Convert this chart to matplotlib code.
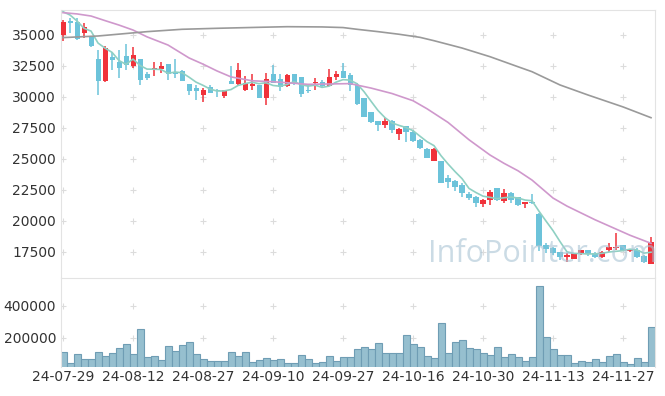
import numpy as np
import pandas as pd
import matplotlib
matplotlib.use("Agg")
import matplotlib.pyplot as plt

# daily candles, 24-07-29 .. 24-12-03 (trading days)
opens = [35000, 36100, 36050, 35200, 34850, 33050, 31250, 33250, 32850, 33300,
         32500, 33050, 31850, 32150, 32250, 32650, 31900, 32100, 31050, 30750,
         30150, 30800, 30600, 30100, 31300, 31050, 30600, 30900, 30950, 29900,
         31850, 31450, 30850, 31850, 31600, 30550, 31100, 31200, 30900, 31600,
         32100, 31750, 30950, 29950, 28750, 28050, 27750, 28050, 27000, 27650,
         27200, 26530, 25800, 24850, 24800, 23500, 23230, 22900, 22180, 21950,
         21370, 21700, 22650, 21650, 22250, 21900, 21350, 21550, 20600, 18100,
         17800, 17480, 17120, 16950, 17330, 17650, 17450, 17080, 17660, 17850,
         18050, 17580, 17700, 17180, 16550]
highs = [36200, 36350, 36350, 35950, 34900, 33800, 34150, 33650, 33800, 34250,
         34000, 33100, 32050, 32800, 32850, 32650, 33050, 32150, 31050, 30950,
         30700, 30950, 30650, 30600, 32500, 32750, 31700, 31850, 31000, 31950,
         32600, 31850, 31850, 31850, 31600, 30950, 31500, 31350, 32250, 32100,
         32750, 31950, 31100, 29950, 28800, 28080, 28300, 28150, 27500, 27700,
         27350, 26600, 25850, 25850, 24800, 23700, 23300, 23050, 22350, 22000,
         21800, 22500, 22650, 22550, 22350, 21950, 21560, 22150, 20650, 18200,
         17900, 17520, 17400, 17450, 17700, 17700, 17500, 17600, 18200, 19000,
         18100, 17750, 17800, 17250, 18700]
lows = [34500, 35150, 34600, 34750, 34050, 30200, 31200, 32200, 31550, 32200,
        32300, 30950, 31350, 31700, 31900, 31350, 31550, 31250, 30150, 29750,
        29600, 30300, 29980, 29900, 31050, 30850, 30450, 30600, 29950, 29350,
        31100, 30450, 30800, 30950, 30000, 30350, 30600, 30700, 30900, 31400,
        31500, 30450, 29350, 28350, 27880, 27250, 27480, 27100, 26550, 26350,
        26400, 25800, 25050, 24850, 23050, 22650, 22420, 21950, 21700, 21150,
        21150, 21300, 21600, 21430, 21480, 21200, 21020, 21400, 17600, 17400,
        17250, 16850, 16680, 16900, 17250, 17200, 17050, 17000, 17520, 17650,
        17550, 17500, 17000, 16600, 16500]
closes = [36070, 36000, 34700, 35650, 34150, 31250, 33950, 33000, 32350, 32600,
          33400, 31350, 31550, 32300, 32500, 31850, 31850, 31300, 30500, 30500,
          30550, 30350, 30500, 30550, 31050, 32200, 31100, 31050, 29950, 31450,
          31100, 30800, 31750, 31100, 30250, 30480, 31200, 30850, 31600, 31850,
          31500, 31000, 29400, 28400, 28000, 27750, 28100, 27300, 27400, 27150,
          26480, 25850, 25100, 25800, 23100, 23150, 22780, 22250, 21850, 21430,
          21700, 22300, 21700, 22250, 21700, 21300, 21500, 21420, 18000, 17750,
          17450, 17080, 17260, 17400, 17650, 17300, 17130, 17480, 17930, 17930,
          17580, 17720, 17130, 16680, 18300]
volumes = [107000, 38000, 95000, 63000, 63000, 107000, 82000, 101000, 133000, 158000,
           95000, 253000, 76000, 82000, 57000, 145000, 114000, 152000, 171000, 95000,
           63000, 51000, 51000, 51000, 107000, 82000, 107000, 44000, 57000, 69000,
           57000, 63000, 38000, 38000, 88000, 63000, 38000, 44000, 82000, 51000,
           76000, 76000, 126000, 139000, 126000, 164000, 101000, 101000, 101000, 215000,
           158000, 139000, 82000, 69000, 291000, 101000, 171000, 183000, 133000, 126000,
           101000, 88000, 139000, 76000, 95000, 76000, 51000, 76000, 526000, 202000,
           126000, 88000, 88000, 38000, 51000, 44000, 63000, 44000, 82000, 95000,
           44000, 32000, 69000, 44000, 265000]

# 5-day MA head (needs closes before the window)
ma5_head = [36880, 36610, 36130, 35540]
# 20-day and 60-day MA at these candles
ma20_idx = [0, 2, 4, 6, 8, 10, 12, 15, 18, 20, 22, 24, 27, 30, 32, 35, 38, 41, 44, 47,
            50, 52, 55, 58, 61, 63, 65, 67, 70, 72, 74, 76, 78, 81, 84]
ma20_val = [36800, 36700, 36530, 36160, 35800, 35400, 34850, 34190, 33150, 32650,
            32100, 31620, 31310, 31230, 31150, 31020, 31050, 31080, 30720, 30280,
            29700, 29050, 27950, 26550, 25320, 24650, 24050, 23300, 21850, 21200,
            20650, 20100, 19600, 18850, 18200]
ma60_idx = [0, 5, 12, 17, 22, 28, 32, 37, 40, 42, 45, 48, 51, 53, 57, 61, 65, 67,
            71, 75, 80, 84]
ma60_val = [34790, 34920, 35270, 35460, 35540, 35620, 35670, 35650, 35600, 35460,
            35270, 35060, 34810, 34540, 33950, 33250, 32440, 32040, 30970, 30160,
            29200, 28330]

tick_labels = ["24-07-29", "24-08-12", "24-08-27", "24-09-10", "24-09-27",
               "24-10-16", "24-10-30", "24-11-13", "24-11-27"]
price_ticks = [17500, 20000, 22500, 25000, 27500, 30000, 32500, 35000]
vol_ticks = [200000, 400000]

UP = "#f0323a"
DOWN = "#6cc3da"
GRID = "#dcdcdc"
TXT = "#333333"

o = np.array(opens, float)
h = np.array(highs, float)
l = np.array(lows, float)
c = np.array(closes, float)
x = np.arange(len(c))
tick_pos = x[::10][:len(tick_labels)]

ma5 = pd.Series(c).rolling(5).mean().to_numpy()
ma5[:4] = ma5_head

fig = plt.figure(figsize=(6.65, 3.96), dpi=100)
ax = fig.add_axes([61 / 665, 1 - 277 / 396, 594 / 665, 267 / 396])
axv = fig.add_axes([61 / 665, 1 - 367.3 / 396, 594 / 665, 89.3 / 396])

up = c >= o
col = np.where(up, UP, DOWN)
ax.vlines(x, l, h, colors=col, linewidth=1.1, zorder=2)
body_lo = np.minimum(o, c)
body_h = np.maximum(np.abs(c - o), 60)
ax.bar(x, body_h, bottom=body_lo, width=0.72, color=col, linewidth=0, zorder=3)

ax.plot(x, ma5, color="#8fd0c3", lw=1.2, zorder=4)
ax.plot(ma20_idx, ma20_val, color="#cf98cc", lw=1.2, zorder=4)
ax.plot(ma60_idx, ma60_val, color="#9a9a9a", lw=1.2, zorder=4)

ax.text(0.81, 0.085, "InfoPointer.com", transform=ax.transAxes, ha="center",
        va="center", fontsize=22, color="#a9c4d4", alpha=0.6,
        family="Open Sans", zorder=5)

axv.bar(x, volumes, width=1.0, color="#96bfcf", edgecolor="#6f9db4",
        linewidth=0.8, zorder=2)

xlim = (-0.29, 84.57)
for a in (ax, axv):
    a.set_xlim(*xlim)
    for s in ("top", "left", "right"):
        a.spines[s].set_color("#e3e3e3")
    a.spines["bottom"].set_visible(False)
    a.tick_params(length=0, colors=TXT, labelsize=10)
    a.set_xticks(tick_pos)

ax.set_ylim(15483, 37016)
ax.set_yticks(price_ticks)
ax.set_yticklabels([str(v) for v in price_ticks])
ax.set_xticklabels([])
gx, gy = np.meshgrid(tick_pos, price_ticks)
ax.scatter(gx.ravel(), gy.ravel(), marker="+", s=16, color=GRID, lw=0.8, zorder=1)

axv.set_ylim(12600, 574700)
axv.set_yticks(vol_ticks)
axv.set_yticklabels([str(v) for v in vol_ticks])
axv.set_xticklabels(tick_labels)
axv.tick_params(axis="x", pad=2)
gx, gy = np.meshgrid(tick_pos, vol_ticks)
axv.scatter(gx.ravel(), gy.ravel(), marker="+", s=16, color=GRID, lw=0.8, zorder=1)

fig.savefig("out.png", dpi=100)
